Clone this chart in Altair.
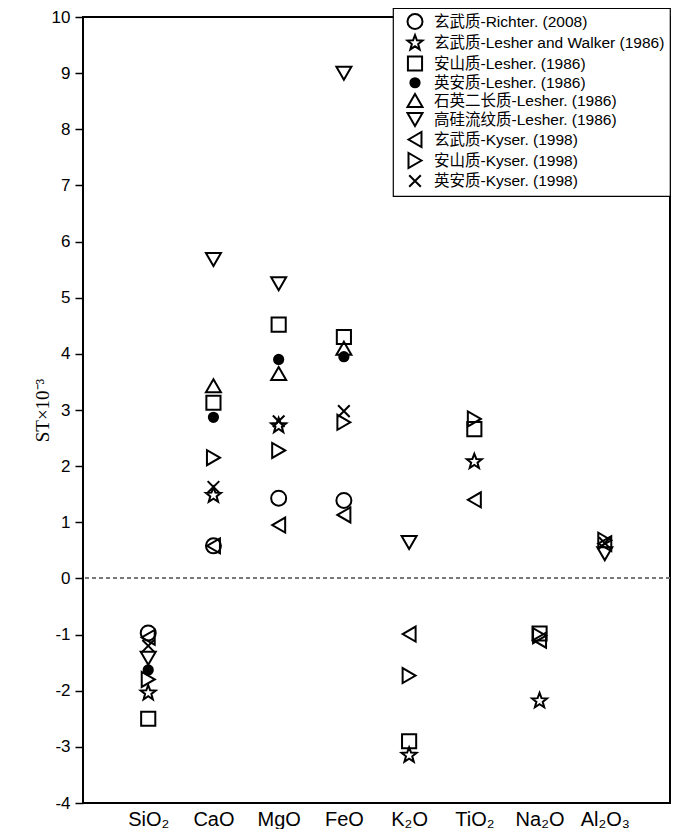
import json
import altair as alt
import pandas as pd

oxides = ["SiO₂", "CaO", "MgO", "FeO", "K₂O", "TiO₂", "Na₂O", "Al₂O₃"]

series = [
    "玄武质-Richter. (2008)",
    "玄武质-Lesher and Walker (1986)",
    "安山质-Lesher. (1986)",
    "英安质-Lesher. (1986)",
    "石英二长质-Lesher. (1986)",
    "高硅流纹质-Lesher. (1986)",
    "玄武质-Kyser. (1998)",
    "安山质-Kyser. (1998)",
    "英安质-Kyser. (1998)",
]

# values per series, in the order of `oxides` (None = not plotted)
richter_basalt = [-0.97, 0.58, 1.43, 1.39, None, None, None, None]
lesher_walker_basalt = [-2.04, 1.48, 2.72, None, -3.15, 2.08, -2.18, None]
lesher_andesite = [-2.50, 3.13, 4.52, 4.30, -2.90, 2.66, -0.98, None]
lesher_dacite = [-1.63, 2.87, 3.90, 3.95, None, None, None, None]
lesher_monzonite = [None, 3.43, 3.65, 4.10, None, None, None, None]
lesher_rhyolite = [-1.42, 5.68, 5.25, 9.00, 0.64, None, None, 0.44]
kyser_basalt = [-1.05, 0.58, 0.95, 1.13, -0.99, 1.40, -1.10, 0.62]
kyser_andesite = [-1.80, 2.15, 2.28, 2.78, -1.73, 2.84, -1.02, 0.68]
kyser_dacite = [-1.20, 1.63, 2.80, 2.98, None, None, None, 0.63]

all_values = [richter_basalt, lesher_walker_basalt, lesher_andesite, lesher_dacite,
              lesher_monzonite, lesher_rhyolite, kyser_basalt, kyser_andesite, kyser_dacite]

rows = []
for s, vals in zip(series, all_values):
    for i, v in enumerate(vals):
        if v is not None:
            rows.append({"series": s, "pos": i + 1, "value": v})
df = pd.DataFrame(rows)

STAR = ("M0,-1L0.247,-0.34L0.951,-0.309L0.399,0.13L0.588,0.809L0,0.42"
        "L-0.588,0.809L-0.399,0.13L-0.951,-0.309L-0.247,-0.34Z")
XMARK = "M-0.75,-0.75L0.75,0.75M-0.75,0.75L0.75,-0.75"

shapes = ["circle", STAR, "square", "circle", "triangle-up", "triangle-down",
          "triangle-left", "triangle-right", XMARK]
fills = ["transparent", "transparent", "transparent", "black", "transparent",
         "transparent", "transparent", "transparent", "transparent"]
strokes = ["black"] * 9
sizes = [225, 250, 200, 85, 225, 225, 225, 225, 240]

font = "Liberation Sans, Noto Sans CJK SC, sans-serif"
label_expr = json.dumps(oxides) + "[datum.value - 1]"

W, H = 587, 786


def leg():
    return alt.Legend(title=None, orient="none", legendX=310, legendY=-9)


points = alt.Chart(df).mark_point(filled=False, strokeWidth=2, opacity=1).encode(
    x=alt.X("pos:Q",
            scale=alt.Scale(domain=[0, 9], nice=False, zero=False),
            axis=alt.Axis(values=list(range(1, 9)), labelExpr=label_expr, ticks=False,
                          domain=False, grid=False, title=None, labelFontSize=20,
                          labelFont=font, labelColor="black", labelPadding=6)),
    y=alt.Y("value:Q",
            scale=alt.Scale(domain=[-4, 10], nice=False, zero=False),
            axis=alt.Axis(values=[x / 2 for x in range(-8, 21)],
                          labelExpr="datum.value % 1 == 0 ? '' + datum.value : ''",
                          tickSize={"condition": {"test": "datum.value % 1 != 0", "value": 4},
                                    "value": 8},
                          tickColor="black", tickWidth=1.5, domain=False, grid=False,
                          labelFontSize=17, labelFont=font, labelColor="black",
                          labelPadding=5,
                          title="ST×10⁻³", titleFont="Liberation Serif",
                          titleFontSize=19, titleFontWeight="normal", titleColor="black",
                          titleX=-41, titleY=H / 2, titleAngle=-90,
                          titleBaseline="middle", titleAlign="center")),
    shape=alt.Shape("series:N", scale=alt.Scale(domain=series, range=shapes), legend=leg()),
    fill=alt.Fill("series:N", scale=alt.Scale(domain=series, range=fills), legend=leg()),
    stroke=alt.Stroke("series:N", scale=alt.Scale(domain=series, range=strokes), legend=leg()),
    size=alt.Size("series:N", scale=alt.Scale(type="ordinal", domain=series, range=sizes),
                  legend=leg()),
)

zero = alt.Chart(df).mark_rule(color="#777777", strokeDash=[4, 3], strokeWidth=1).encode(
    y=alt.datum(0)
)

chart = alt.layer(zero, points).properties(
    width=W, height=H,
    autosize=alt.AutoSizeParams(type="none"),
    padding={"left": 75, "top": 9, "right": 22, "bottom": 26},
).configure_view(
    stroke="black", strokeWidth=2
).configure_legend(
    strokeColor="black", strokeWidth=1.2, fillColor="white", padding=5,
    cornerRadius=0, labelFontSize=15.5, labelFont=font, labelColor="black",
    symbolStrokeWidth=2, symbolStrokeColor="black", rowPadding=-2,
    labelOffset=10, symbolOffset=8, labelLimit=400,
)

chart.save("out.html", embed_options={"renderer": "svg", "actions": False})
